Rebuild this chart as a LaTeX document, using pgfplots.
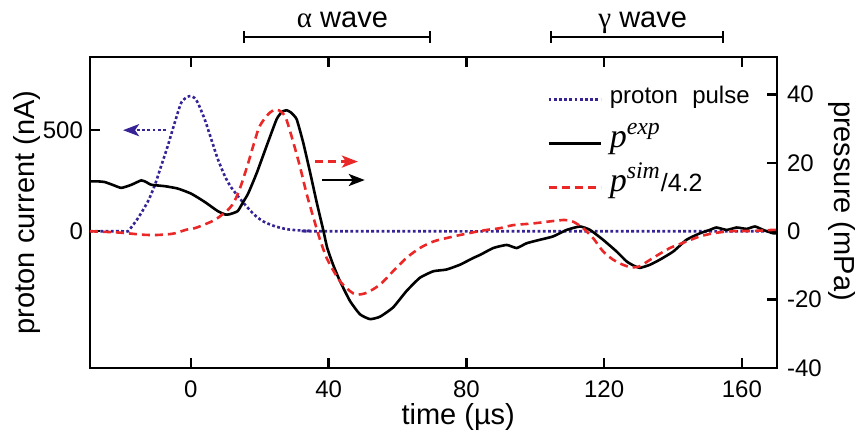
\documentclass[border=0pt]{standalone}
\usepackage{fontspec}
\setmainfont{Liberation Sans}
\newfontfamily\serifit{Liberation Serif}
\usepackage{pgfplots}
\pgfplotsset{compat=1.18}
\usetikzlibrary{arrows.meta}
\definecolor{pblue}{RGB}{55,35,150}
\definecolor{pred}{RGB}{235,40,40}
\tikzset{
  blueline/.style={pblue, line width=1.3pt, dash pattern=on 1.4pt off 1.2pt},
  redline/.style={pred, line width=1.3pt, dash pattern=on 4pt off 2.5pt},
  blackline/.style={black, line width=1.3pt},
}
\pgfplotsset{
  common/.style={
    scale only axis, width=343.5pt, height=155.5pt,
    xmin=-29.3, xmax=170.2,
    axis line style={line width=1.2pt},
    every tick/.style={line width=1.2pt, black},
    major tick length=5pt,
    tick align=inside,
    tick label style={font=\fontsize{12}{12}\selectfont},
    label style={font=\fontsize{14.5}{14.5}\selectfont},
    /pgf/number format/assume math mode=true,
    clip=false,
  },
}
\begin{document}
\begin{tikzpicture}
\begin{axis}[common,
  ymin=-676, ymax=862,
  xtick={0,40,80,120,160}, xtick pos=both, xticklabel pos=bottom,
  xticklabel style={yshift=-3pt},
  ytick={0,250,500}, yticklabels={0,,500}, ytick pos=left,
  xlabel={time (µs)},
  xlabel style={at={(axis description cs:0.536,-0.1576)}, anchor=center},
  ylabel={proton current (nA)},
  ylabel style={at={(axis description cs:-0.0917,0.5)}, anchor=center},
]
\addplot[blueline, smooth, tension=0.4] coordinates {
(-29.3,0) (-20,0) (-18.3,0) (-15.4,64) (-12.5,147) (-10.5,227) (-8.6,325) (-6.7,423)
(-4.7,537) (-2.8,636) (-1,665) (0,668) (1,660) (2,636) (4,554) (5.9,456) (7.8,358)
(9.8,275) (11.5,222) (14.2,162) (17.1,105) (19,73) (21,49) (23.5,30) (25.8,18)
(28,10) (30.8,5) (35,2) (40,0) (170.2,0)};
\draw[blueline, -{Stealth[length=8pt,width=6pt,inset=2pt]}] (axis cs:-7.3,500) -- (axis cs:-19.7,500);
\end{axis}
\begin{axis}[common,
  ymin=-40, ymax=51,
  xtick=\empty,
  ytick={-40,-20,0,20,40}, ytick pos=right, yticklabel pos=right,
  yticklabel style={xshift=1.5pt},
  ylabel={pressure (mPa)},
  ylabel style={at={(axis description cs:1.0953,0.537)}, anchor=center, rotate=180},
  legend style={at={(rel axis cs:0.665,0.936)}, anchor=north west, draw=none, fill=none,
    inner sep=0pt, row sep=0pt,
    nodes={inner xsep=4pt, inner ysep=0pt, text height=13pt, text depth=9pt},
    font=\fontsize{12}{12}\selectfont},
  legend cell align=left,
  legend image code/.code={\draw[#1] (0pt,0pt) -- (26pt,0pt);},
]
\addlegendimage{blueline}
\addlegendentry{proton\hspace{0.6em}pulse}
\addlegendimage{blackline}
\addlegendentry{{\fontsize{17}{17}\selectfont\serifit\itshape p\textsuperscript{exp}}}
\addlegendimage{redline}
\addlegendentry{{\fontsize{17}{17}\selectfont\serifit\itshape p\textsuperscript{sim}}{\fontsize{12.5}{12.5}\selectfont/4.2}}
\addplot[blackline, smooth, tension=0.3, forget plot] coordinates {
(-29.3,14.6) (-27,14.6) (-25,14.4) (-22.5,13.5) (-20.2,12.7) (-17.3,13.6) (-14.4,14.9)
(-12.8,14.3) (-11.5,13.6) (-7.6,13.2) (-3.8,12.5) (0.1,11) (4,8.6) (7.8,5.9) (10,4.9)
(11.3,5.0) (13.6,5.9) (15.2,8.6) (16.6,11) (19.1,17) (22,25) (24.9,32.8) (26.5,35)
(27.8,35.4) (29,34.8) (30.7,32.8) (32.6,26) (34.6,17.3) (36.5,8.6) (38.4,0.5)
(39.6,-4.9) (41.3,-9.8) (43.3,-14.6) (46.2,-20.4) (49.1,-24.3) (52,-25.7) (54.9,-25)
(58.7,-22.3) (62.6,-17.5) (66.5,-13.6) (70.4,-11.7) (74.2,-11.2) (78.1,-9.8) (82,-7.8)
(84,-6.9) (87.8,-4.9) (91.7,-4) (94.6,-4.9) (97.5,-3.5) (101.3,-2.5) (105.2,-1.5)
(109.1,0.4) (113,1.4) (115.9,0.4) (119.7,-2.5) (123.6,-5.9) (126.5,-8.8) (128.5,-10)
(130.4,-10.7) (133.3,-9.8) (136.2,-8.3) (140.1,-5.9) (143.9,-2.5) (147.8,-0.6)
(150.7,0.4) (152.6,1.1) (155.6,0.4) (158.5,1.1) (161.4,0.7) (163.8,1.4) (166.2,0.4)
(169.1,-0.6) (170.2,-0.5)};
\addplot[redline, smooth, tension=0.5, forget plot] coordinates {
(-29.3,0) (-22,-0.3) (-18.3,-0.6) (-14,-1) (-10.5,-1.1) (-7,-0.9) (-4.7,-0.6) (-1.2,0.5)
(1.1,0.9) (4,2) (6.9,3.3) (9,4.8) (10.7,6.2) (12.5,8.5) (14.4,13) (16.5,19.5) (18.1,25)
(20,30.8) (22.9,34.7) (25,35.6) (27.3,33.7) (29.2,27.9) (31.6,19.2) (33.6,11) (35.5,4.3)
(37.5,-2.5) (39.4,-7.8) (40.4,-9.8) (43.3,-14.6) (46.2,-17.5) (48.1,-18.5) (51,-18)
(54.9,-15.6) (58.7,-11.7) (62.6,-7.8) (66.5,-4.9) (70.4,-3) (74.2,-2) (78.1,-1.1)
(82,-0.3) (85.9,0.4) (89.7,0.9) (93.6,1.8) (99.4,2.3) (105.2,3) (108.6,3.3) (111,2.8)
(113.9,0.9) (116.8,-2) (119.7,-5.9) (122.6,-8.3) (125,-9.6) (127.5,-10.5) (129,-10.5)
(130.4,-10.2) (134.2,-7.8) (139.1,-4.9) (143.9,-3) (147.8,-1.5) (151.7,-0.6) (156.5,0)
(163.3,0.1) (169.1,0.4) (170.2,0.3)};
\draw[redline, -{Stealth[length=8pt,width=6pt,inset=2pt]}] (axis cs:36,20.4) -- (axis cs:48.5,20.4);
\draw[blackline, -{Stealth[length=8pt,width=6pt,inset=2pt]}] (axis cs:38.2,15.0) -- (axis cs:50.5,15.0);
\draw[line width=1.1pt, {Bar[width=6pt]}-{Bar[width=6pt]}] (axis cs:15.1,56.9) -- (axis cs:69.7,56.9);
\draw[line width=1.1pt, {Bar[width=6pt]}-{Bar[width=6pt]}] (axis cs:104.2,56.9) -- (axis cs:154.8,56.9);
\node[anchor=base, font=\fontsize{14.5}{14.5}\selectfont] at (axis cs:44,59.5) {{\serifit α} wave};
\node[anchor=base, font=\fontsize{14.5}{14.5}\selectfont] at (axis cs:131.2,59.5) {{\serifit γ} wave};
\end{axis}
\pgfresetboundingbox
\path ([xshift=-45pt,yshift=-34.5pt]current axis.south west) rectangle ([xshift=41pt,yshift=28.5pt]current axis.north east);
\end{tikzpicture}
\end{document}
